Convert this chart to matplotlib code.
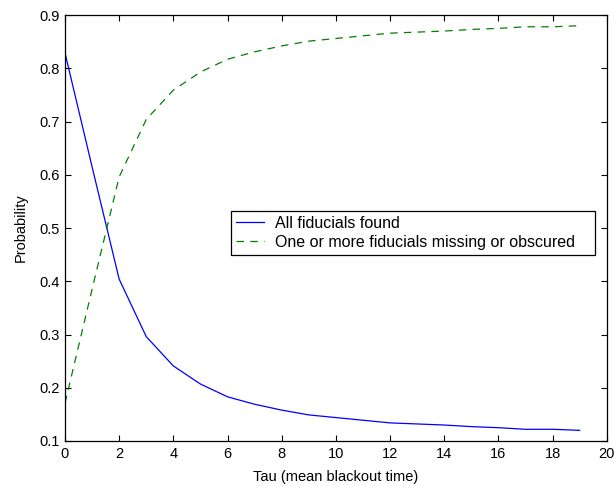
import matplotlib
matplotlib.use('Agg')
import matplotlib.pyplot as plt

tau = list(range(20))
all_found = [0.829, 0.615, 0.404, 0.296, 0.241, 0.207, 0.183, 0.169, 0.158, 0.149,
             0.144, 0.139, 0.134, 0.132, 0.130, 0.127, 0.125, 0.122, 0.122, 0.120]
missing = [0.171, 0.385, 0.596, 0.704, 0.759, 0.793, 0.817, 0.831, 0.842, 0.851,
           0.856, 0.861, 0.866, 0.868, 0.870, 0.873, 0.875, 0.878, 0.878, 0.880]

plt.rcParams['font.family'] = ['Liberation Sans', 'DejaVu Sans']
plt.rcParams['font.size'] = 10

fig = plt.figure(figsize=(6.16, 4.86), dpi=100)
ax = fig.add_axes([0.1055, 0.0926, 0.8795, 0.8764])

ax.plot(tau, all_found, color='#0000ff', lw=0.9, label='All fiducials found')
ax.plot(tau, missing, color='#008000', lw=0.9, ls=(0, (6, 5)),
        label='One or more fiducials missing or obscured')

ax.set_xlim(0, 20)
ax.set_ylim(0.1, 0.9)
ax.set_xticks(range(0, 21, 2))
ax.set_yticks([0.1, 0.2, 0.3, 0.4, 0.5, 0.6, 0.7, 0.8, 0.9])
ax.set_yticklabels(['0.1', '0.2', '0.3', '0.4', '0.5', '0.6', '0.7', '0.8', '0.9'])
ax.tick_params(direction='in', top=True, right=True, length=4, width=0.8,
               labelsize=10.5, pad=4)
for s in ax.spines.values():
    s.set_linewidth(0.9)

ax.set_xlabel('Tau (mean blackout time)', fontsize=10.5, labelpad=7)
ax.set_ylabel('Probability', fontsize=10.5, labelpad=8)

# legend box spans x 231..596 px in the reference
leg = ax.legend(loc='lower left', bbox_to_anchor=(0.306, 0.437, 0.673, 0),
                mode='expand', fancybox=False, edgecolor='black', framealpha=1,
                borderaxespad=0, handlelength=1.75, handletextpad=0.7,
                borderpad=0.3, labelspacing=0.25, prop={'size': 11.5})
leg.get_frame().set_linewidth(0.9)

plt.savefig('out.png', dpi=100)
